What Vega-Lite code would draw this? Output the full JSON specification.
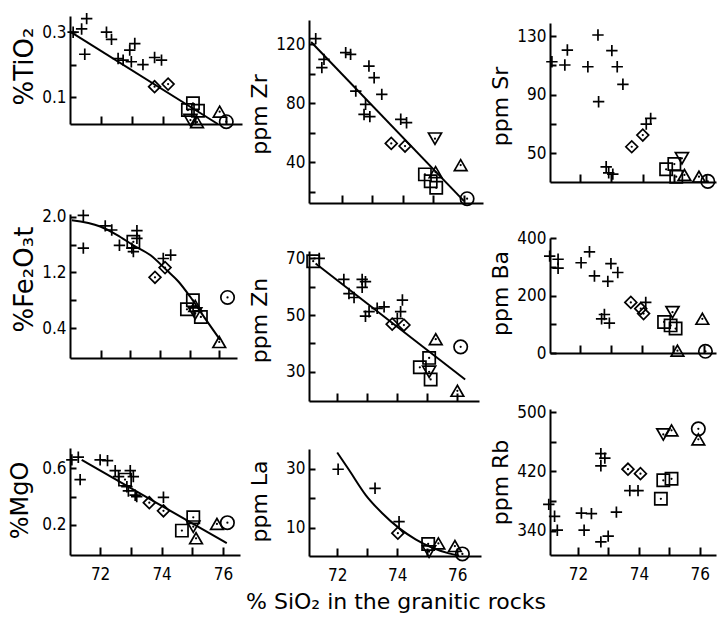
{
"$schema":"https://vega.github.io/schema/vega-lite/v6.json",
"autosize":{"type":"pad"},
"padding":{"left":8,"top":9,"right":0,"bottom":0},
"background":"white",
"spacing":6,
"title":{"text":"% SiO₂ in the granitic rocks","orient":"bottom","anchor":"middle","frame":"group","offset":9,"dx":326,"font":"DejaVu Sans","fontSize":22,"fontWeight":"normal","color":"#000"},
"datasets":{
"A":[{"s":"c","x":71.56,"y":0.342},{"s":"c","x":71.13,"y":0.30},{"s":"c","x":71.4,"y":0.31},{"s":"c","x":71.5,"y":0.232},{"s":"c","x":72.19,"y":0.30},{"s":"c","x":72.35,"y":0.278},{"s":"c","x":72.56,"y":0.219},{"s":"c","x":72.72,"y":0.214},{"s":"c","x":72.93,"y":0.245},{"s":"c","x":73.09,"y":0.265},{"s":"c","x":72.98,"y":0.209},{"s":"c","x":73.35,"y":0.20},{"s":"c","x":73.72,"y":0.222},{"s":"c","x":73.94,"y":0.214},{"s":"d","x":73.72,"y":0.132},{"s":"d","x":74.15,"y":0.14},{"s":"s","x":74.94,"y":0.081},{"s":"s","x":74.78,"y":0.06},{"s":"s","x":75.10,"y":0.058},{"s":"v","x":74.86,"y":0.029},{"s":"t","x":75.07,"y":0.023},{"s":"t","x":75.79,"y":0.055},{"s":"o","x":76.0,"y":0.024}],
"Al":[{"x":71.06,"y":0.30},{"x":75.73,"y":0.017}],
"B":[{"s":"c","x":71.15,"y":123.9},{"s":"c","x":71.42,"y":109.8},{"s":"c","x":71.35,"y":104.2},{"s":"c","x":72.13,"y":114.4},{"s":"c","x":72.29,"y":113.2},{"s":"c","x":72.89,"y":105.3},{"s":"c","x":73.06,"y":97.4},{"s":"c","x":72.46,"y":88.3},{"s":"c","x":73.31,"y":86.1},{"s":"c","x":72.78,"y":79.3},{"s":"c","x":72.73,"y":72.5},{"s":"c","x":72.92,"y":71.0},{"s":"c","x":73.93,"y":69.2},{"s":"c","x":74.12,"y":66.9},{"s":"d","x":73.62,"y":52.9},{"s":"d","x":74.07,"y":51.1},{"s":"v","x":75.05,"y":56.1},{"s":"t","x":75.89,"y":38.2},{"s":"t","x":75.07,"y":33.4},{"s":"s","x":74.72,"y":31.9},{"s":"s","x":74.91,"y":27.3},{"s":"s","x":75.09,"y":22.8},{"s":"o","x":76.1,"y":15.4}],
"Bl":[{"x":71.0,"y":121.6},{"x":76.0,"y":13.8}],
"C":[{"s":"c","x":71.12,"y":112.4},{"s":"c","x":71.53,"y":110.2},{"s":"c","x":71.61,"y":120.4},{"s":"c","x":72.26,"y":109},{"s":"c","x":72.58,"y":130.7},{"s":"c","x":72.60,"y":85.1},{"s":"c","x":73.02,"y":120},{"s":"c","x":73.19,"y":109},{"s":"c","x":73.37,"y":97},{"s":"c","x":72.84,"y":40.6},{"s":"c","x":72.92,"y":36.5},{"s":"c","x":73.05,"y":35.6},{"s":"c","x":74.25,"y":73.7},{"s":"c","x":74.11,"y":69.8},{"s":"d","x":73.65,"y":54.3},{"s":"d","x":74.0,"y":62.3},{"s":"s","x":74.74,"y":38.9},{"s":"s","x":75.0,"y":42.5},{"s":"s","x":75.06,"y":33.8},{"s":"v","x":75.24,"y":46.4},{"s":"t","x":75.32,"y":35},{"s":"t","x":75.78,"y":33.8},{"s":"o","x":76.06,"y":30.6}],
"D":[{"s":"c","x":71.41,"y":2.02},{"s":"c","x":71.41,"y":1.55},{"s":"c","x":72.15,"y":1.87},{"s":"c","x":72.37,"y":1.81},{"s":"c","x":72.63,"y":1.59},{"s":"c","x":73.05,"y":1.55},{"s":"c","x":73.10,"y":1.50},{"s":"c","x":73.22,"y":1.80},{"s":"c","x":73.22,"y":1.69},{"s":"c","x":74.11,"y":1.40},{"s":"c","x":74.36,"y":1.45},{"s":"s","x":73.10,"y":1.64},{"s":"d","x":73.83,"y":1.13},{"s":"d","x":74.17,"y":1.27},{"s":"s","x":75.11,"y":0.80},{"s":"s","x":74.91,"y":0.67},{"s":"s","x":75.38,"y":0.56},{"s":"t","x":75.19,"y":0.72},{"s":"v","x":75.19,"y":0.61},{"s":"t","x":76.0,"y":0.20},{"s":"o","x":76.28,"y":0.84}],
"Dl":[{"x":71.02,"y":1.95},{"x":71.98,"y":1.86},{"x":72.54,"y":1.74},{"x":73.1,"y":1.59},{"x":73.67,"y":1.45},{"x":74.23,"y":1.23},{"x":74.62,"y":1.07},{"x":75.02,"y":0.85},{"x":75.52,"y":0.54},{"x":76.03,"y":0.23}],
"E":[{"s":"c","x":71.40,"y":70.0},{"s":"s","x":71.2,"y":69.0},{"s":"c","x":72.22,"y":62.6},{"s":"c","x":72.83,"y":62.6},{"s":"c","x":72.94,"y":61.8},{"s":"c","x":72.83,"y":59.8},{"s":"c","x":72.39,"y":57.6},{"s":"c","x":72.56,"y":56.2},{"s":"c","x":73.06,"y":51.2},{"s":"c","x":72.94,"y":49.6},{"s":"c","x":73.33,"y":52.4},{"s":"c","x":73.56,"y":52.9},{"s":"c","x":74.17,"y":55.3},{"s":"c","x":74.11,"y":51.2},{"s":"c","x":74.0,"y":48.8},{"s":"d","x":73.83,"y":46.8},{"s":"d","x":74.22,"y":46.5},{"s":"t","x":75.28,"y":41.5},{"s":"o","x":76.11,"y":38.8},{"s":"s","x":75.06,"y":34.9},{"s":"s","x":74.75,"y":31.6},{"s":"s","x":75.11,"y":27.3},{"s":"v","x":75.06,"y":30.0},{"s":"t","x":76.0,"y":23.3}],
"El":[{"x":71.28,"y":68.2},{"x":76.26,"y":27.3}],
"F":[{"s":"c","x":71.04,"y":337},{"s":"c","x":71.31,"y":326},{"s":"c","x":71.31,"y":295},{"s":"c","x":72.05,"y":314},{"s":"c","x":72.32,"y":352},{"s":"c","x":72.48,"y":268},{"s":"c","x":72.91,"y":249},{"s":"c","x":73.01,"y":311},{"s":"c","x":73.23,"y":280},{"s":"c","x":72.71,"y":119},{"s":"c","x":72.80,"y":134},{"s":"c","x":72.96,"y":104},{"s":"c","x":74.13,"y":176},{"s":"d","x":73.65,"y":176},{"s":"d","x":73.97,"y":154},{"s":"d","x":74.06,"y":137},{"s":"s","x":74.72,"y":108},{"s":"s","x":74.93,"y":96},{"s":"s","x":75.09,"y":85},{"s":"v","x":74.99,"y":142},{"s":"t","x":75.15,"y":8},{"s":"t","x":75.95,"y":119},{"s":"o","x":76.05,"y":6}],
"G":[{"s":"c","x":71.08,"y":0.659},{"s":"c","x":71.29,"y":0.678},{"s":"c","x":71.35,"y":0.52},{"s":"c","x":72.0,"y":0.659},{"s":"c","x":72.24,"y":0.654},{"s":"c","x":72.49,"y":0.583},{"s":"c","x":72.60,"y":0.541},{"s":"c","x":72.98,"y":0.583},{"s":"c","x":73.08,"y":0.541},{"s":"c","x":72.87,"y":0.47},{"s":"c","x":72.92,"y":0.44},{"s":"c","x":73.14,"y":0.41},{"s":"c","x":73.19,"y":0.40},{"s":"c","x":74.06,"y":0.395},{"s":"s","x":72.81,"y":0.52},{"s":"d","x":73.60,"y":0.357},{"s":"d","x":74.06,"y":0.30},{"s":"s","x":75.03,"y":0.254},{"s":"s","x":74.66,"y":0.16},{"s":"v","x":75.03,"y":0.188},{"s":"t","x":75.12,"y":0.106},{"s":"t","x":75.80,"y":0.207},{"s":"o","x":76.14,"y":0.216}],
"Gl":[{"x":71.40,"y":0.659},{"x":76.12,"y":0.071}],
"H":[{"s":"c","x":72.03,"y":29.9},{"s":"c","x":73.26,"y":23.4},{"s":"c","x":74.06,"y":12.0},{"s":"d","x":74.02,"y":8.1},{"s":"s","x":75.03,"y":4.4},{"s":"t","x":75.37,"y":4.6},{"s":"t","x":75.92,"y":3.7},{"s":"v","x":75.06,"y":1.8},{"s":"o","x":76.17,"y":1.0}],
"Hl":[{"x":72.0,"y":35.6},{"x":72.39,"y":29.7},{"x":72.95,"y":21.1},{"x":73.5,"y":14.9},{"x":74.06,"y":9.8},{"x":74.61,"y":6.0},{"x":75.17,"y":3.1},{"x":75.72,"y":1.2},{"x":76.06,"y":0.4}],
"I":[{"s":"c","x":71.04,"y":375.4},{"s":"c","x":71.23,"y":359.3},{"s":"c","x":71.32,"y":340.5},{"s":"c","x":72.11,"y":363.7},{"s":"c","x":72.44,"y":362.9},{"s":"c","x":72.20,"y":340.5},{"s":"c","x":73.26,"y":365},{"s":"c","x":72.75,"y":444},{"s":"c","x":72.88,"y":438},{"s":"c","x":72.75,"y":427.6},{"s":"c","x":72.75,"y":324.8},{"s":"c","x":72.99,"y":332.5},{"s":"c","x":73.70,"y":394},{"s":"c","x":73.97,"y":394},{"s":"d","x":73.64,"y":423},{"s":"d","x":74.05,"y":417},{"s":"s","x":74.80,"y":408},{"s":"s","x":75.07,"y":410},{"s":"s","x":74.72,"y":383},{"s":"v","x":74.80,"y":470},{"s":"t","x":75.07,"y":475.5},{"s":"t","x":75.95,"y":463.4},{"s":"o","x":75.95,"y":477.6}]
},
"hconcat":[
{"bounds":"flush","spacing":90,"vconcat":[
 {"width":172,"height":108,"data":{"name":"A"},
  "encoding":{"x":{"field":"x","type":"quantitative","scale":{"domain":[71.03,76.5],"nice":false,"zero":false},"axis":{"values":[72,73,74,75,76],"labels":false,"title":null}},
   "y":{"field":"y","type":"quantitative","scale":{"domain":[0.017,0.35],"nice":false,"zero":false},"axis":{"values":[0.1,0.2,0.3],"format":".1f","labelExpr":"abs(datum.value-0.2)<0.01 ? '' : datum.label","title":"%TiO₂","titleX":-46,"titleY":50,"titleFontSize":26}}},
  "layer":[
   {"mark":{"type":"point","filled":false,"stroke":"#000","strokeWidth":1.7,"opacity":1},"encoding":{"shape":{"field":"s","type":"nominal","scale":{"domain":["c","d","s","t","v","o"],"range":["M-1,0H1M0,-1V1","diamond","square","triangle-up","triangle-down","circle"]},"legend":null},"size":{"field":"s","type":"nominal","scale":{"domain":["c","d","s","t","v","o"],"range":[130,180,150,130,130,90]},"legend":null}}},
   {"transform":[{"filter":"datum.s != 'c'"}],"mark":{"type":"circle","size":5,"color":"#000","opacity":1}},
   {"data":{"name":"Al"},"mark":{"type":"line","color":"#000","strokeWidth":2},"encoding":{}}
  ]},
 {"width":167,"height":144,"data":{"name":"D"},
  "encoding":{"x":{"field":"x","type":"quantitative","scale":{"domain":[70.96,76.6],"nice":false,"zero":false},"axis":{"values":[72,73,74,75,76],"labels":false,"title":null}},
   "y":{"field":"y","type":"quantitative","scale":{"domain":[-0.03,2.04],"nice":false,"zero":false},"axis":{"values":[0.4,0.8,1.2,1.6,2.0],"format":".1f","labelExpr":"abs(datum.value-0.8)<0.01 || abs(datum.value-1.6)<0.01 ? '' : datum.label","title":"%Fe₂O₃t","titleX":-46,"titleY":65,"titleFontSize":26}}},
  "layer":[
   {"mark":{"type":"point","filled":false,"stroke":"#000","strokeWidth":1.7,"opacity":1},"encoding":{"shape":{"field":"s","type":"nominal","scale":{"domain":["c","d","s","t","v","o"],"range":["M-1,0H1M0,-1V1","diamond","square","triangle-up","triangle-down","circle"]},"legend":null},"size":{"field":"s","type":"nominal","scale":{"domain":["c","d","s","t","v","o"],"range":[130,180,150,130,130,90]},"legend":null}}},
   {"transform":[{"filter":"datum.s != 'c'"}],"mark":{"type":"circle","size":5,"color":"#000","opacity":1}},
   {"data":{"name":"Dl"},"mark":{"type":"line","color":"#000","strokeWidth":2,"interpolate":"monotone"},"encoding":{}}
  ]},
 {"width":170,"height":107,"data":{"name":"G"},
  "encoding":{"x":{"field":"x","type":"quantitative","scale":{"domain":[71.02,76.55],"nice":false,"zero":false},"axis":{"values":[72,73,74,75,76],"labelExpr":"datum.value % 2 == 0 ? datum.label : ''","title":null}},
   "y":{"field":"y","type":"quantitative","scale":{"domain":[-0.012,0.743],"nice":false,"zero":false},"axis":{"values":[0.2,0.4,0.6],"format":".1f","labelExpr":"abs(datum.value-0.4)<0.01 ? '' : datum.label","title":"%MgO","titleX":-50,"titleY":52,"titleFontSize":24}}},
  "layer":[
   {"mark":{"type":"point","filled":false,"stroke":"#000","strokeWidth":1.7,"opacity":1},"encoding":{"shape":{"field":"s","type":"nominal","scale":{"domain":["c","d","s","t","v","o"],"range":["M-1,0H1M0,-1V1","diamond","square","triangle-up","triangle-down","circle"]},"legend":null},"size":{"field":"s","type":"nominal","scale":{"domain":["c","d","s","t","v","o"],"range":[130,180,150,130,130,90]},"legend":null}}},
   {"transform":[{"filter":"datum.s != 'c'"}],"mark":{"type":"circle","size":5,"color":"#000","opacity":1}},
   {"data":{"name":"Gl"},"mark":{"type":"line","color":"#000","strokeWidth":2},"encoding":{}}
  ]}
]},
{"bounds":"flush","spacing":0,"vconcat":[
 {"width":10,"height":4,"data":{"values":[]},"mark":"point"},
 {"bounds":"flush","spacing":48,"vconcat":[
 {"width":174,"height":183,"data":{"name":"B"},
  "encoding":{"x":{"field":"x","type":"quantitative","scale":{"domain":[70.93,76.62],"nice":false,"zero":false},"axis":{"values":[72,73,74,75,76],"labels":false,"title":null}},
   "y":{"field":"y","type":"quantitative","scale":{"domain":[12.5,136.5],"nice":false,"zero":false},"axis":{"values":[20,40,60,80,100,120],"labelExpr":"datum.value % 40 == 0 ? datum.label : ''","title":"ppm Zr","titleX":-50,"titleY":94}}},
  "layer":[
   {"mark":{"type":"point","filled":false,"stroke":"#000","strokeWidth":1.7,"opacity":1},"encoding":{"shape":{"field":"s","type":"nominal","scale":{"domain":["c","d","s","t","v","o"],"range":["M-1,0H1M0,-1V1","diamond","square","triangle-up","triangle-down","circle"]},"legend":null},"size":{"field":"s","type":"nominal","scale":{"domain":["c","d","s","t","v","o"],"range":[130,180,150,130,130,90]},"legend":null}}},
   {"transform":[{"filter":"datum.s != 'c'"}],"mark":{"type":"circle","size":5,"color":"#000","opacity":1}},
   {"data":{"name":"Bl"},"mark":{"type":"line","color":"#000","strokeWidth":2},"encoding":{}}
  ]},
 {"width":170,"height":150,"data":{"name":"E"},
  "encoding":{"x":{"field":"x","type":"quantitative","scale":{"domain":[71.06,76.72],"nice":false,"zero":false},"axis":{"values":[72,73,74,75,76],"labels":false,"title":null}},
   "y":{"field":"y","type":"quantitative","scale":{"domain":[19.7,72.6],"nice":false,"zero":false},"axis":{"values":[30,40,50,60,70],"labelExpr":"(datum.value-30) % 20 == 0 ? datum.label : ''","title":"ppm Zn","titleX":-50,"titleY":69}}},
  "layer":[
   {"mark":{"type":"point","filled":false,"stroke":"#000","strokeWidth":1.7,"opacity":1},"encoding":{"shape":{"field":"s","type":"nominal","scale":{"domain":["c","d","s","t","v","o"],"range":["M-1,0H1M0,-1V1","diamond","square","triangle-up","triangle-down","circle"]},"legend":null},"size":{"field":"s","type":"nominal","scale":{"domain":["c","d","s","t","v","o"],"range":[130,180,150,130,130,90]},"legend":null}}},
   {"transform":[{"filter":"datum.s != 'c'"}],"mark":{"type":"circle","size":5,"color":"#000","opacity":1}},
   {"data":{"name":"El"},"mark":{"type":"line","color":"#000","strokeWidth":2},"encoding":{}}
  ]},
 {"width":172,"height":107,"data":{"name":"H"},
  "encoding":{"x":{"field":"x","type":"quantitative","scale":{"domain":[71.06,76.79],"nice":false,"zero":false},"axis":{"values":[72,73,74,75,76],"labelExpr":"datum.value % 2 == 0 ? datum.label : ''","title":null}},
   "y":{"field":"y","type":"quantitative","scale":{"domain":[0.3,36.8],"nice":false,"zero":false},"axis":{"values":[10,20,30],"labelExpr":"datum.value != 20 ? datum.label : ''","title":"ppm La","titleX":-50,"titleY":52}}},
  "layer":[
   {"mark":{"type":"point","filled":false,"stroke":"#000","strokeWidth":1.7,"opacity":1},"encoding":{"shape":{"field":"s","type":"nominal","scale":{"domain":["c","d","s","t","v","o"],"range":["M-1,0H1M0,-1V1","diamond","square","triangle-up","triangle-down","circle"]},"legend":null},"size":{"field":"s","type":"nominal","scale":{"domain":["c","d","s","t","v","o"],"range":[130,180,150,130,130,90]},"legend":null}}},
   {"transform":[{"filter":"datum.s != 'c'"}],"mark":{"type":"circle","size":5,"color":"#000","opacity":1}},
   {"data":{"name":"Hl"},"mark":{"type":"line","color":"#000","strokeWidth":2,"interpolate":"monotone"},"encoding":{}}
  ]}
 ]}
]},
{"bounds":"flush","spacing":0,"vconcat":[
 {"width":10,"height":7,"data":{"values":[]},"mark":"point"},
 {"bounds":"flush","spacing":56,"vconcat":[
 {"width":166,"height":159,"data":{"name":"C"},
  "encoding":{"x":{"field":"x","type":"quantitative","scale":{"domain":[71.06,76.32],"nice":false,"zero":false},"axis":{"values":[72,73,74,75,76],"labels":false,"title":null}},
   "y":{"field":"y","type":"quantitative","scale":{"domain":[30.2,138.9],"nice":false,"zero":false},"axis":{"values":[50,70,90,110,130],"labelExpr":"(datum.value-50) % 40 == 0 ? datum.label : ''","title":"ppm Sr","titleX":-50,"titleY":83}}},
  "layer":[
   {"mark":{"type":"point","filled":false,"stroke":"#000","strokeWidth":1.7,"opacity":1},"encoding":{"shape":{"field":"s","type":"nominal","scale":{"domain":["c","d","s","t","v","o"],"range":["M-1,0H1M0,-1V1","diamond","square","triangle-up","triangle-down","circle"]},"legend":null},"size":{"field":"s","type":"nominal","scale":{"domain":["c","d","s","t","v","o"],"range":[130,180,150,130,130,90]},"legend":null}}},
   {"transform":[{"filter":"datum.s != 'c'"}],"mark":{"type":"circle","size":5,"color":"#000","opacity":1}}
  ]},
 {"width":166,"height":115,"data":{"name":"F"},
  "encoding":{"x":{"field":"x","type":"quantitative","scale":{"domain":[71.05,76.39],"nice":false,"zero":false},"axis":{"values":[72,73,74,75,76],"labels":false,"title":null}},
   "y":{"field":"y","type":"quantitative","scale":{"domain":[0,400],"nice":false,"zero":false},"axis":{"values":[0,100,200,300,400],"labelExpr":"datum.value % 200 == 0 ? datum.label : ''","title":"ppm Ba","titleX":-50,"titleY":55}}},
  "layer":[
   {"mark":{"type":"point","filled":false,"stroke":"#000","strokeWidth":1.7,"opacity":1},"encoding":{"shape":{"field":"s","type":"nominal","scale":{"domain":["c","d","s","t","v","o"],"range":["M-1,0H1M0,-1V1","diamond","square","triangle-up","triangle-down","circle"]},"legend":null},"size":{"field":"s","type":"nominal","scale":{"domain":["c","d","s","t","v","o"],"range":[130,180,150,130,130,90]},"legend":null}}},
   {"transform":[{"filter":"datum.s != 'c'"}],"mark":{"type":"circle","size":5,"color":"#000","opacity":1}}
  ]},
 {"width":166,"height":146,"data":{"name":"I"},
  "encoding":{"x":{"field":"x","type":"quantitative","scale":{"domain":[71.08,76.53],"nice":false,"zero":false},"axis":{"values":[72,73,74,75,76],"labelExpr":"datum.value % 2 == 0 ? datum.label : ''","title":null}},
   "y":{"field":"y","type":"quantitative","scale":{"domain":[307,504.4],"nice":false,"zero":false},"axis":{"values":[340,380,420,460,500],"labelExpr":"(datum.value-340) % 80 == 0 ? datum.label : ''","title":"ppm Rb","titleX":-50,"titleY":73}}},
  "layer":[
   {"mark":{"type":"point","filled":false,"stroke":"#000","strokeWidth":1.7,"opacity":1},"encoding":{"shape":{"field":"s","type":"nominal","scale":{"domain":["c","d","s","t","v","o"],"range":["M-1,0H1M0,-1V1","diamond","square","triangle-up","triangle-down","circle"]},"legend":null},"size":{"field":"s","type":"nominal","scale":{"domain":["c","d","s","t","v","o"],"range":[130,180,150,130,130,90]},"legend":null}}},
   {"transform":[{"filter":"datum.s != 'c'"}],"mark":{"type":"circle","size":5,"color":"#000","opacity":1}}
  ]}
 ]}
]}
],
"config":{
 "view":{"stroke":null},
 "axis":{"grid":false,"domainColor":"#000","tickColor":"#000","domainWidth":2,"tickWidth":2,"labelColor":"#000","labelFont":"DejaVu Sans Condensed, DejaVu Sans","labelFontSize":17,"labelOverlap":false,"labelFlush":false,"titleColor":"#000","titleFont":"DejaVu Sans","titleFontWeight":"normal","titleFontSize":22},
 "axisX":{"tickSize":-8,"labelPadding":19},
 "axisY":{"tickSize":-6,"labelPadding":10,"titleAngle":270,"titleBaseline":"middle","titleAlign":"center"}
}
}
